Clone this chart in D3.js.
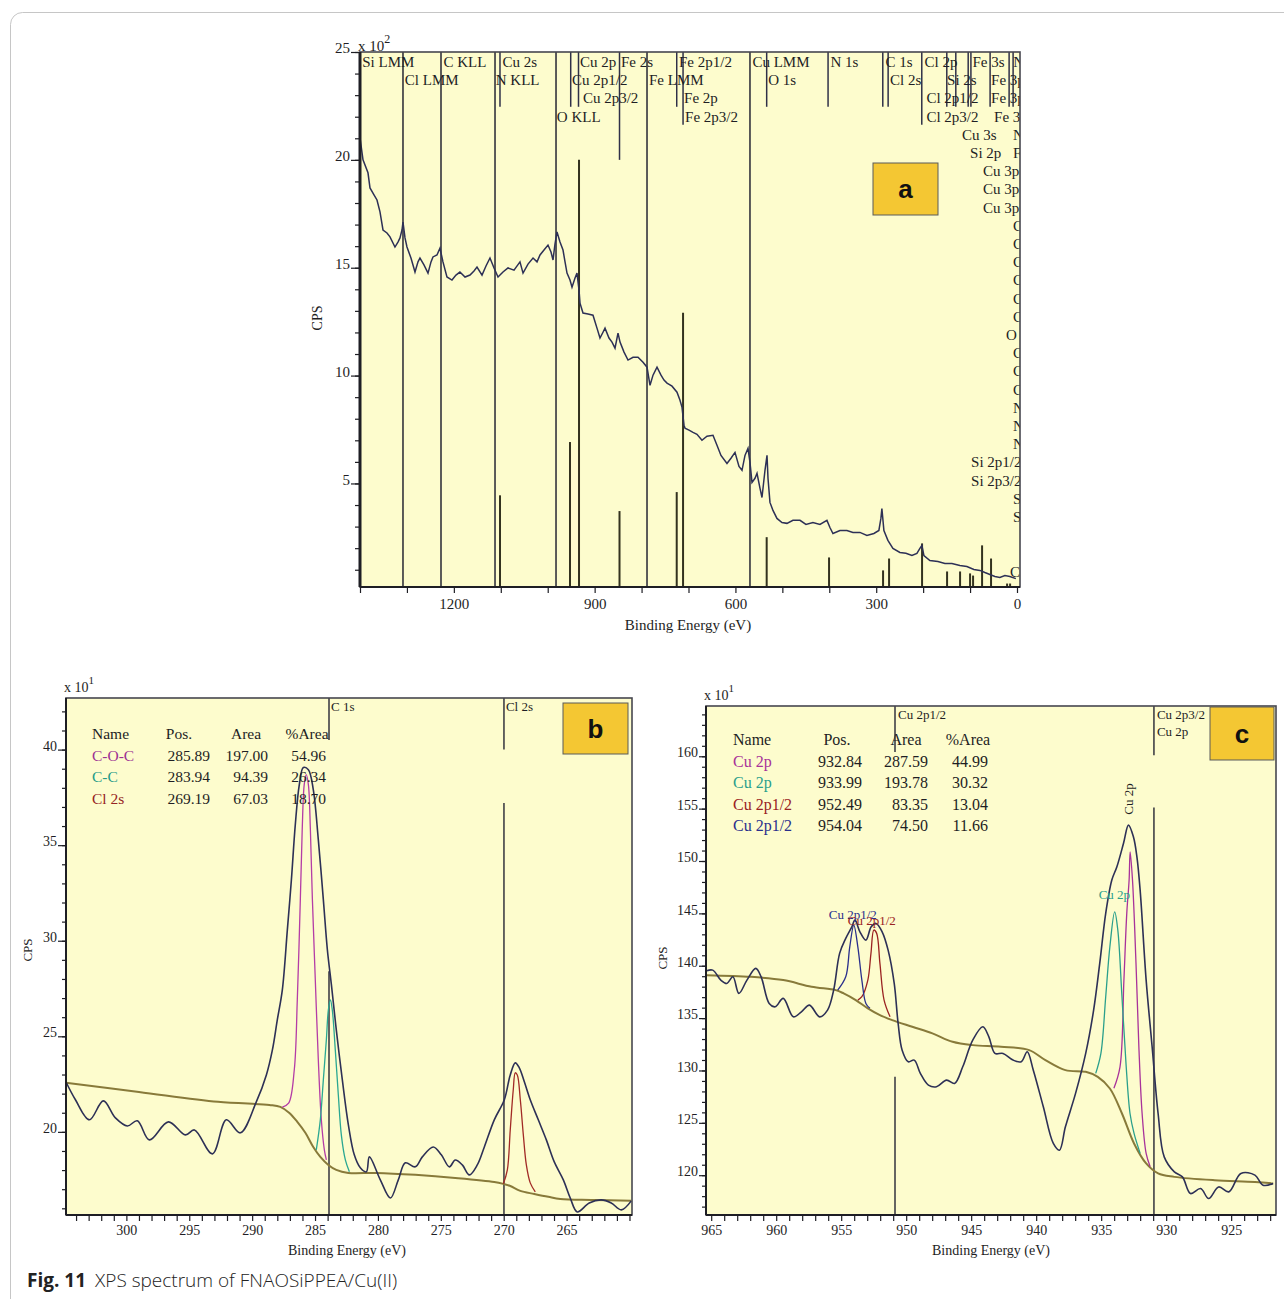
<!DOCTYPE html>
<html>
<head>
<meta charset="utf-8">
<script src="https://cdn.jsdelivr.net/npm/d3@7"></script>
<style>
  body { margin: 0; background: #fff; }
  svg { display: block; }
</style>
</head>
<body>
<svg id="fig" width="1284" height="1299"></svg>
<script>
/* ============================
   Data – survey (a)
============================ */

// [binding energy eV, CPS x100]
const surveyA = [
[1400.0,21.02],[1393.6,20.00],[1383.0,19.40],[1378.7,18.70],[1370.2,18.38],[1363.8,18.14],[1357.4,17.59],[1351.0,16.75],[1342.5,16.61],[1336.1,16.43],[1325.5,15.96],[1319.1,16.19],[1314.8,16.38],[1310.5,16.75],[1308.4,17.12],[1304.1,16.38],[1299.9,15.96],[1291.4,15.45],[1282.8,14.80],[1276.4,15.27],[1272.2,15.45],[1263.7,15.13],[1255.1,14.75],[1248.7,15.27],[1244.5,15.50],[1236.0,15.59],[1229.6,15.91],[1223.2,15.27],[1214.7,14.57],[1204.0,14.43],[1195.5,14.66],[1187.1,14.80],[1176.2,14.57],[1165.6,14.66],[1157.1,14.85],[1150.7,15.03],[1140.0,14.66],[1131.5,15.08],[1123.0,15.45],[1114.4,14.99],[1105.9,14.57],[1095.3,14.80],[1084.6,14.99],[1071.8,14.89],[1059.1,15.27],[1052.6,14.75],[1042.0,15.17],[1031.3,15.45],[1022.8,15.27],[1016.4,15.59],[1007.9,15.82],[999.4,16.05],[993.0,15.73],[988.7,15.36],[984.5,16.10],[980.2,16.66],[973.8,16.19],[967.4,15.82],[963.1,15.27],[958.9,14.75],[952.5,14.43],[948.2,14.10],[941.8,14.52],[937.6,14.75],[933.3,13.96],[931.2,13.36],[924.8,12.90],[914.1,12.85],[903.5,12.80],[895.0,12.20],[888.6,11.74],[882.2,12.01],[877.9,12.20],[869.4,11.74],[863.0,11.55],[856.6,11.27],[850.2,11.97],[845.9,11.55],[837.4,11.09],[828.9,10.72],[818.2,10.85],[807.6,10.85],[796.9,10.62],[788.4,10.39],[782.0,9.55],[775.6,10.02],[767.1,10.39],[758.6,10.02],[752.2,9.79],[745.8,9.65],[735.1,9.51],[724.5,9.23],[718.1,8.86],[713.8,8.53],[709.6,7.70],[707.4,7.56],[698.9,7.47],[690.4,7.37],[681.9,7.28],[671.3,7.00],[660.6,7.19],[647.8,7.23],[639.3,6.77],[630.8,6.30],[618.0,5.93],[609.5,6.17],[600.9,6.44],[592.4,5.79],[586.0,5.61],[579.6,6.30],[573.2,6.63],[569.0,5.98],[564.7,5.05],[558.3,5.24],[554.0,5.47],[547.6,4.77],[543.4,4.35],[537.0,5.61],[532.7,6.30],[530.6,5.24],[526.4,4.12],[520.0,3.75],[511.5,3.38],[500.8,3.19],[490.2,3.15],[477.4,3.29],[462.4,3.29],[449.7,3.10],[434.8,3.19],[419.9,3.10],[405.0,3.29],[398.6,2.96],[392.2,2.68],[377.3,2.82],[362.4,2.82],[349.6,2.73],[334.7,2.73],[319.8,2.59],[304.9,2.68],[294.3,2.82],[290.0,3.38],[287.9,3.84],[283.6,2.82],[275.1,2.36],[264.4,1.99],[249.5,1.80],[236.7,1.76],[223.9,1.66],[213.3,1.76],[206.9,1.99],[202.6,2.13],[198.4,1.66],[185.6,1.43],[168.5,1.38],[153.6,1.29],[138.7,1.29],[121.7,1.20],[106.8,1.15],[91.9,1.01],[79.1,0.97],[68.4,0.87],[57.8,0.78],[47.1,0.69],[36.5,0.64],[25.8,0.73],[15.2,0.69],[2.4,0.59]
];

// full-height element lines (BE)
const fullLinesA = [1308.4, 1227.4, 1112.3, 982.3, 788.4, 569.0];

// short marker lines hanging from the top: [BE, lower end in CPS x100]
const topMarksA = [
  [1101.7, 22.46], [951.0, 22.46], [934.4, 22.46], [847.0, 20.0], [725.1, 22.46],
  [711.6, 21.63], [533.4, 22.46], [402.6, 22.46], [286.0, 22.46], [274.6, 22.46],
  [202.9, 21.63], [149.6, 22.46], [130.4, 22.46], [104.0, 22.46], [98.2, 22.46],
  [57.3, 22.46], [16.8, 22.46], [8.3, 22.46]
];

// reference bars standing on the axis: [BE, height in CPS x100]
const barsA = [
  [1101.7, 4.45], [952.5, 6.92], [933.3, 20.0], [847.0, 3.72], [725.1, 4.60],
  [711.6, 12.91], [533.4, 2.51], [400.5, 1.57], [285.4, 0.97], [272.6, 1.52],
  [202.3, 2.22], [149.0, 0.92], [121.3, 0.92], [100.0, 0.83], [93.6, 0.73],
  [74.4, 2.13], [55.3, 1.52], [21.1, 0.36], [14.7, 0.36]
];

// peak labels: [text, BE at text start, stack row]
const labelsA = [
  ["Si LMM", 1395.2, 0], ["C KLL", 1222.3, 0], ["Cu 2s", 1096.5, 0], ["Cu 2p", 931.2, 0],
  ["Fe 2s", 843.8, 0], ["Fe 2p1/2", 720.2, 0], ["Cu LMM", 563.7, 0], ["N 1s", 397.4, 0],
  ["C 1s", 280.2, 0], ["Cl 2p", 197.1, 0], ["Fe 3s", 95.0, 0], ["N 2s", 8.0, 0],
  ["Cl LMM", 1304.5, 1], ["N KLL", 1110.7, 1], ["Cu 2p1/2", 948.2, 1], ["Fe LMM", 784.1, 1],
  ["O 1s", 530.0, 1], ["Cl 2s", 270.4, 1], ["Si 2s", 149.0, 1], ["Fe 3p", 55.2, 1],
  ["Cu 2p3/2", 925.0, 2], ["Fe 2p", 709.4, 2], ["Cl 2p1/2", 193.0, 2], ["Fe 3p", 55.2, 2],
  ["O KLL", 980.6, 3], ["Fe 2p3/2", 707.3, 3], ["Cl 2p3/2", 193.0, 3], ["Fe 3p", 48.8, 3],
  ["Cu 3s", 117.2, 4], ["N 2s", 8.3, 4],
  ["Si 2p", 100.0, 5], ["Fe 3p", 8.3, 5],
  ["Cu 3p", 72.3, 6], ["Cu 3p", 72.3, 7], ["Cu 3p", 72.3, 8],
  ["Cu 3d", 8.3, 9], ["Cu 3d", 8.3, 10], ["Cl 3s", 8.3, 11], ["Cl 3s", 8.3, 12],
  ["Cl 3p", 8.3, 13], ["Cl 3p", 8.3, 14], ["O 2s", 23.2, 15], ["Cu 3d", 8.3, 16],
  ["Cl 3p", 8.3, 17], ["Cl 3p", 8.3, 18], ["N 2s", 8.3, 19], ["N 2s", 8.3, 20],
  ["N 2s", 8.3, 21], ["Si 2p1/2", 97.8, 22], ["Si 2p3/2", 97.8, 23],
  ["Si 3s", 8.3, 24], ["Si 3p", 8.3, 25], ["Cl 3p", 14.7, 28]
];

/* ============================
   Data – C 1s / Cl 2s (b)
============================ */

const envelopeB = [
[304.77,22.57],[304.05,21.68],[302.94,20.63],[301.83,21.62],[300.87,20.73],[299.92,20.31],[299.13,20.58],[298.17,19.58],[296.66,20.52],[295.31,19.84],[294.59,20.10],[293.16,18.85],[292.05,20.63],[290.94,19.95],[289.67,21.57],[288.87,22.98],[288.39,24.29],[288.0,25.86],[287.6,27.43],[287.2,30.58],[286.88,33.19],[286.57,36.07],[286.25,38.17],[285.93,39.06],[285.53,38.95],[285.14,37.91],[284.74,35.29],[284.34,32.15],[284.02,29.53],[283.7,27.70],[283.31,25.34],[282.83,22.72],[282.35,20.37],[281.88,18.80],[281.4,18.12],[280.92,17.91],[280.68,18.69],[279.81,17.49],[279.01,16.54],[278.38,17.49],[277.82,18.38],[277.03,18.17],[276.47,18.69],[275.60,19.21],[274.96,18.80],[274.32,18.17],[273.85,18.53],[273.29,18.27],[272.73,17.75],[272.10,18.27],[271.54,19.21],[270.75,20.63],[269.95,21.68],[269.48,22.98],[269.08,23.61],[268.76,23.35],[268.36,22.62],[267.89,21.68],[267.25,20.63],[266.61,19.58],[265.98,18.43],[265.26,17.49],[264.71,16.54],[264.15,15.81],[263.20,16.28],[262.24,16.44],[261.45,16.28],[260.65,15.92],[259.86,16.39]
];
const backgroundB = [
[304.81,22.57],[299.0,22.09],[292.72,21.57],[288.63,21.41],[287.76,21.31],[287.04,20.99],[286.41,20.52],[285.77,19.95],[285.14,19.21],[284.58,18.69],[283.94,18.27],[283.31,18.01],[282.35,17.85],[280.13,17.85],[277.03,17.75],[273.85,17.59],[270.75,17.38],[270.03,17.28],[269.48,17.17],[268.68,16.91],[267.57,16.75],[266.45,16.60],[265.50,16.49],[262.88,16.44],[259.86,16.39]
];
const cocB = [[287.6,21.3],[287.1,21.5],[286.65,23.25],[286.41,26.91],[286.17,32.15],[286.02,35.81],[285.86,38.17],[285.70,38.69],[285.53,38.17],[285.37,35.81],[285.21,32.15],[284.98,27.96],[284.74,23.77],[284.50,20.63],[284.26,19.06],[284.10,18.53]];
const ccB = [[284.90,19.06],[284.58,20.63],[284.34,22.72],[284.10,24.82],[283.94,26.39],[283.78,26.91],[283.63,26.39],[283.39,24.29],[283.15,21.94],[282.91,19.84],[282.59,18.53],[282.27,17.91]];
const cl2sB = [[270.03,17.28],[269.71,18.01],[269.48,20.10],[269.24,22.20],[269.08,23.09],[268.92,22.98],[268.68,21.68],[268.44,19.84],[268.20,18.27],[267.89,17.33],[267.49,16.86]];

const tableB = [
  ["C-O-C", "285.89", "197.00", "54.96"],
  ["C-C", "283.94", "94.39", "26.34"],
  ["Cl 2s", "269.19", "67.03", "18.70"]
];
// [label, BE, top marker end, lower line start] (CPS x10)
const linesB = [["C 1s", 283.89, 40.5, 28.4], ["Cl 2s", 269.98, 40.0, 37.2]];

/* ============================
   Data – Cu 2p (c)
============================ */

const envelopeC = [
[965.35,139.52],[964.88,139.58],[964.26,138.63],[963.80,138.31],[963.33,138.94],[962.87,137.36],[962.25,138.63],[961.57,139.75],[961.16,138.94],[960.54,136.40],[960.08,136.08],[959.46,136.88],[958.68,135.12],[958.06,135.60],[957.44,136.24],[956.66,135.12],[956.05,135.76],[955.58,137.67],[955.12,141.18],[954.65,142.61],[954.18,143.72],[953.94,144.36],[953.56,143.24],[953.10,142.45],[952.69,143.72],[952.32,144.04],[951.85,143.24],[951.39,141.49],[950.92,138.31],[950.62,134.49],[950.31,131.94],[949.84,130.83],[949.38,130.99],[948.91,129.72],[948.29,128.60],[947.67,128.44],[946.89,129.08],[946.28,128.76],[945.65,130.35],[944.88,132.90],[944.10,134.17],[943.64,133.21],[943.17,131.63],[942.55,131.63],[941.78,130.99],[941.15,130.83],[940.69,131.78],[940.22,130.03],[939.45,126.53],[938.68,123.03],[938.21,122.39],[937.75,124.62],[936.97,127.81],[936.19,131.63],[935.58,135.76],[935.11,140.22],[934.65,145.0],[934.18,148.18],[933.79,149.45],[933.28,151.69],[932.90,153.43],[932.52,152.31],[932.25,150.40],[932.0,147.2],[931.54,138.63],[931.08,132.26],[930.62,125.89],[930.15,121.75],[929.37,120.32],[928.75,119.84],[928.13,118.25],[927.35,118.73],[926.73,117.77],[925.96,118.88],[925.18,118.41],[924.25,120.17],[923.17,120.01],[922.55,119.05],[921.77,119.21]
];
const backgroundC = [
[965.35,139.1],[961.94,138.94],[959.46,138.63],[957.28,137.99],[955.42,137.67],[954.81,137.36],[953.88,136.72],[952.95,135.93],[952.02,135.28],[951.08,134.81],[949.53,134.17],[947.98,133.54],[946.43,132.74],[944.88,132.42],[942.71,132.26],[940.54,131.94],[939.29,130.99],[937.75,130.03],[936.19,129.87],[935.26,129.39],[934.33,128.28],[933.40,125.89],[932.47,123.03],[931.54,121.12],[930.62,120.17],[929.37,119.84],[926.27,119.52],[923.17,119.36],[921.77,119.21]
];
const cu2pMagC = [[934.02,128.31],[933.55,130.35],[933.25,138.63],[933.03,145.0],[932.85,148.18],[932.77,150.88],[932.59,148.18],[932.32,140.22],[932.10,132.26],[931.85,125.89],[931.54,122.08],[931.23,120.80]];
const cu2pTealC = [[935.42,129.72],[935.02,131.63],[934.65,137.04],[934.33,141.81],[933.96,145.15],[933.72,143.41],[933.40,137.04],[933.09,130.67],[932.78,125.89],[932.47,123.99],[932.0,122.08]];
const cu2p12RedC = [[953.72,136.72],[953.41,137.04],[952.95,138.63],[952.71,141.18],[952.49,143.41],[952.27,143.09],[952.02,140.22],[951.70,136.72],[951.24,135.12]];
const cu2p12BlueC = [[955.27,137.67],[954.65,138.94],[954.34,141.81],[954.03,143.88],[953.72,141.81],[953.41,138.63],[953.10,136.40],[952.79,135.93]];

const tableC = [
  ["Cu 2p", "932.84", "287.59", "44.99"],
  ["Cu 2p", "933.99", "193.78", "30.32"],
  ["Cu 2p1/2", "952.49", "83.35", "13.04"],
  ["Cu 2p1/2", "954.04", "74.50", "11.66"]
];
const linesC = [["Cu 2p1/2", 950.86, 160.4, 129.4], ["Cu 2p3/2", 930.94, 160.1, 155.1]];

/* ============================
   Styles
============================ */

const SERIF = '"Liberation Serif", "Times New Roman", serif';
const PLOT_BG = "#fdfccd";
const INK = "#1e1e24";
const SPEC = "#2d3056";
const BGLINE = "#887a3a";
const colB = ["#9b2f93", "#249a88", "#962323"];
const curveColB = ["#b43ca6", "#2aa792", "#a12a26"];
const colC = ["#a8329a", "#2a9f8c", "#9a2222", "#2a2f8c"];

const svg = d3.select("#fig");

// outer rounded frame of the figure
svg.append("rect")
  .attr("x", 10.5).attr("y", 12.5)
  .attr("width", 1320).attr("height", 1330)
  .attr("rx", 12)
  .attr("fill", "none")
  .attr("stroke", "#c6c6c6");

/* ============================
   Helpers
============================ */

function plotBox(x, y) {
  const [x0, x1] = x.range(), [y0, y1] = y.range();
  svg.append("rect")
    .attr("x", x0).attr("y", y1)
    .attr("width", x1 - x0).attr("height", y0 - y1)
    .attr("fill", PLOT_BG);
}

function frameAndAxes(x, y, o) {
  const [x0, x1] = x.range(), [y0, y1] = y.range();

  svg.append("rect")
    .attr("x", x0).attr("y", y1)
    .attr("width", x1 - x0).attr("height", y0 - y1)
    .attr("fill", "none")
    .attr("stroke", "#46464f")
    .attr("stroke-width", 1.6);

  svg.append("line")
    .attr("x1", x0).attr("x2", x0).attr("y1", y1).attr("y2", y0)
    .attr("stroke", INK).attr("stroke-width", o.leftW || 2);
  svg.append("line")
    .attr("x1", x0).attr("x2", x1).attr("y1", y0).attr("y2", y0)
    .attr("stroke", INK).attr("stroke-width", 1.8);

  // y ticks: minor, then labelled
  svg.append("g")
    .attr("transform", `translate(${x0},0)`)
    .style("color", INK)
    .call(d3.axisLeft(y).tickValues(o.yMinor).tickSize(o.yMinorLen).tickFormat(""))
    .call(g => g.select(".domain").remove())
    .call(g => g.selectAll("line").attr("stroke-width", 1.2));

  svg.append("g")
    .attr("transform", `translate(${x0},0)`)
    .style("color", INK)
    .call(d3.axisLeft(y).tickValues(o.yMajor).tickSize(o.yMajorLen).tickPadding(1))
    .attr("font-family", SERIF)
    .attr("font-size", o.font)
    .call(g => g.select(".domain").remove())
    .call(g => g.selectAll("line").attr("stroke-width", 1.2))
    .call(g => g.selectAll("text").attr("dy", "0.05em").attr("fill", INK));

  // x ticks
  svg.append("g")
    .attr("transform", `translate(0,${y0})`)
    .style("color", INK)
    .call(d3.axisBottom(x).tickValues(o.xTicks).tickSize(o.xLen).tickPadding(o.xPad)
      .tickFormat(d => o.xLabels.includes(d) ? d : ""))
    .attr("font-family", SERIF)
    .attr("font-size", o.font)
    .call(g => g.select(".domain").remove())
    .call(g => g.selectAll("line").attr("stroke-width", 1.2))
    .call(g => g.selectAll("text").attr("fill", INK));

  // axis titles
  svg.append("text")
    .attr("x", (x0 + x1) / 2 + o.titleDx).attr("y", y0 + o.titleDy)
    .attr("text-anchor", "middle")
    .attr("font-family", SERIF).attr("font-size", o.font)
    .attr("fill", INK)
    .text("Binding Energy (eV)");

  svg.append("text")
    .attr("transform", `translate(${o.cpsX},${o.cpsY}) rotate(-90)`)
    .attr("text-anchor", "middle")
    .attr("font-family", SERIF).attr("font-size", o.font - 1)
    .attr("fill", INK)
    .text("CPS");

  const mult = svg.append("text")
    .attr("x", x0 - 2).attr("y", y1 - o.multDy)
    .attr("font-family", SERIF).attr("font-size", o.font)
    .attr("fill", INK)
    .text("x 10");
  mult.append("tspan")
    .attr("dy", -8).attr("font-size", o.font - 3)
    .text(o.exp);
}

function tagBox(x, y, w, h, letter) {
  svg.append("rect")
    .attr("x", x).attr("y", y).attr("width", w).attr("height", h)
    .attr("fill", "#f4c733").attr("stroke", "#5a5a5a").attr("stroke-width", 1);
  svg.append("text")
    .attr("x", x + w / 2).attr("y", y + h / 2 + 9)
    .attr("text-anchor", "middle")
    .attr("font-family", "Arial, 'Liberation Sans', sans-serif")
    .attr("font-weight", "bold").attr("font-size", 26)
    .attr("fill", "#111")
    .text(letter);
}

function drawCurve(data, x, y, color, width, curve) {
  svg.append("path")
    .datum(data)
    .attr("fill", "none")
    .attr("stroke", color)
    .attr("stroke-width", width)
    .attr("stroke-linejoin", "round")
    .attr("d", d3.line().x(d => x(d[0])).y(d => y(d[1])).curve(curve || d3.curveLinear));
}

function peakTable(rows, colors, o) {
  const heads = ["Name", "Pos.", "Area", "%Area"];
  const g = svg.append("g")
    .attr("font-family", SERIF).attr("font-size", o.font)
    .attr("fill", INK);
  g.append("text").attr("x", o.nameX).attr("y", o.y0).text(heads[0]);
  heads.slice(1).forEach((h, i) => {
    g.append("text").attr("x", o.colEnds[i] - o.headShift[i]).attr("y", o.y0)
      .attr("text-anchor", "middle").text(h);
  });
  rows.forEach((r, i) => {
    const yy = o.y0 + (i + 1) * o.dy;
    g.append("text").attr("x", o.nameX).attr("y", yy).attr("fill", colors[i]).text(r[0]);
    r.slice(1).forEach((v, j) => {
      g.append("text").attr("x", o.colEnds[j]).attr("y", yy)
        .attr("text-anchor", "end").text(v);
    });
  });
}

/* ============================
   Panel a: survey
============================ */

const xA = d3.scaleLinear().domain([1400, -6.4]).range([360, 1020]);
const yA = d3.scaleLinear().domain([0.2, 25]).range([587, 52]);

plotBox(xA, yA);

svg.append("defs").append("clipPath").attr("id", "clipA")
  .append("rect").attr("x", 360).attr("y", 52).attr("width", 660).attr("height", 535);

const gA = svg.append("g").attr("clip-path", "url(#clipA)");

gA.selectAll("line.full")
  .data(fullLinesA)
  .enter()
  .append("line")
  .attr("x1", d => xA(d)).attr("x2", d => xA(d))
  .attr("y1", yA(25)).attr("y2", yA(0.2))
  .attr("stroke", "#33333d").attr("stroke-width", 1.6);

gA.selectAll("line.top")
  .data(topMarksA)
  .enter()
  .append("line")
  .attr("x1", d => xA(d[0])).attr("x2", d => xA(d[0]))
  .attr("y1", yA(25)).attr("y2", d => yA(d[1]))
  .attr("stroke", "#2f3048").attr("stroke-width", 1.5);

gA.selectAll("line.bar")
  .data(barsA)
  .enter()
  .append("line")
  .attr("x1", d => xA(d[0])).attr("x2", d => xA(d[0]))
  .attr("y1", yA(0.2)).attr("y2", d => yA(d[1]))
  .attr("stroke", "#33321f").attr("stroke-width", 2);

gA.selectAll("text.lab")
  .data(labelsA)
  .enter()
  .append("text")
  .attr("x", d => xA(d[1]))
  .attr("y", d => 67 + d[2] * 18.2)
  .attr("font-family", SERIF).attr("font-size", 15)
  .attr("fill", INK)
  .text(d => d[0]);

gA.append("path")
  .datum(surveyA)
  .attr("fill", "none")
  .attr("stroke", SPEC)
  .attr("stroke-width", 1.5)
  .attr("d", d3.line().x(d => xA(d[0])).y(d => yA(d[1])));

frameAndAxes(xA, yA, {
  yMinor: d3.range(1, 26), yMajor: [5, 10, 15, 20, 25],
  yMinorLen: 5, yMajorLen: 9, font: 15, leftW: 3,
  xTicks: d3.range(0, 1401, 100), xLabels: [1200, 900, 600, 300, 0],
  xLen: 6, xPad: 5, titleDx: -2, titleDy: 43,
  cpsX: 322, cpsY: 318, multDy: 1, exp: "2"
});

tagBox(873, 163, 65, 52, "a");

/* ============================
   Panel b: C 1s region
============================ */

const xB = d3.scaleLinear().domain([304.8, 259.8]).range([66, 632]);
const yB = d3.scaleLinear().domain([15.65, 42.7]).range([1215, 698]);

plotBox(xB, yB);

linesB.forEach(([name, be, topEnd, lowStart]) => {
  svg.append("line")
    .attr("x1", xB(be)).attr("x2", xB(be)).attr("y1", yB(42.7)).attr("y2", yB(topEnd))
    .attr("stroke", "#33333d").attr("stroke-width", 1.5);
  svg.append("line")
    .attr("x1", xB(be)).attr("x2", xB(be)).attr("y1", yB(lowStart)).attr("y2", yB(15.65))
    .attr("stroke", "#33333d").attr("stroke-width", 1.5);
  svg.append("text")
    .attr("x", xB(be) + 2).attr("y", yB(42.7) + 13)
    .attr("font-family", SERIF).attr("font-size", 13).attr("fill", INK)
    .text(name);
});

drawCurve(backgroundB, xB, yB, BGLINE, 2, d3.curveCatmullRom);
drawCurve(cocB, xB, yB, curveColB[0], 1.3, d3.curveCatmullRom);
drawCurve(ccB, xB, yB, curveColB[1], 1.3, d3.curveCatmullRom);
drawCurve(cl2sB, xB, yB, curveColB[2], 1.3, d3.curveCatmullRom);
drawCurve(envelopeB, xB, yB, SPEC, 1.6, d3.curveCatmullRom);

peakTable(tableB, colB, {
  font: 15.5, nameX: 92, y0: 739, dy: 21.5,
  colEnds: [210, 268, 326], headShift: [31, 22, 19]
});

frameAndAxes(xB, yB, {
  yMinor: d3.range(16, 43), yMajor: [20, 25, 30, 35, 40],
  yMinorLen: 4, yMajorLen: 8, font: 14,
  xTicks: d3.range(260, 305), xLabels: [300, 295, 290, 285, 280, 275, 270, 265],
  xLen: 6, xPad: 4, titleDx: -2, titleDy: 40,
  cpsX: 32, cpsY: 950, multDy: 6, exp: "1"
});

tagBox(563, 703, 65, 51, "b");

/* ============================
   Panel c: Cu 2p region
============================ */

const xC = d3.scaleLinear().domain([965.4, 921.55]).range([706, 1276]);
const yC = d3.scaleLinear().domain([116.2, 164.8]).range([1215, 706]);

plotBox(xC, yC);

linesC.forEach(([name, be, topEnd, lowStart]) => {
  svg.append("line")
    .attr("x1", xC(be)).attr("x2", xC(be)).attr("y1", yC(164.8)).attr("y2", yC(topEnd))
    .attr("stroke", "#33333d").attr("stroke-width", 1.5);
  svg.append("line")
    .attr("x1", xC(be)).attr("x2", xC(be)).attr("y1", yC(lowStart)).attr("y2", yC(116.2))
    .attr("stroke", "#33333d").attr("stroke-width", 1.5);
  svg.append("text")
    .attr("x", xC(be) + 3).attr("y", yC(164.8) + 13)
    .attr("font-family", SERIF).attr("font-size", 13).attr("fill", INK)
    .text(name);
});
svg.append("text")
  .attr("x", xC(930.94) + 3).attr("y", yC(164.8) + 30)
  .attr("font-family", SERIF).attr("font-size", 13).attr("fill", INK)
  .text("Cu 2p");

drawCurve(backgroundC, xC, yC, BGLINE, 2, d3.curveCatmullRom);
drawCurve(cu2pMagC, xC, yC, colC[0], 1.3, d3.curveCatmullRom);
drawCurve(cu2pTealC, xC, yC, colC[1], 1.3, d3.curveCatmullRom);
drawCurve(cu2p12RedC, xC, yC, colC[2], 1.3, d3.curveCatmullRom);
drawCurve(cu2p12BlueC, xC, yC, colC[3], 1.3, d3.curveCatmullRom);
drawCurve(envelopeC, xC, yC, SPEC, 1.6, d3.curveCatmullRom);

// peak annotations above the fitted components
const apex = arr => arr.reduce((a, b) => (b[1] > a[1] ? b : a));
const envTop = apex(envelopeC);
svg.append("text")
  .attr("transform", `translate(${xC(envTop[0]) + 5},${yC(envTop[1]) - 26}) rotate(-90)`)
  .attr("text-anchor", "middle")
  .attr("font-family", SERIF).attr("font-size", 13).attr("fill", INK)
  .text("Cu 2p");
const tealTop = apex(cu2pTealC);
svg.append("text")
  .attr("x", xC(tealTop[0]) - 16).attr("y", yC(tealTop[1]) - 13)
  .attr("font-family", SERIF).attr("font-size", 13).attr("fill", colC[1])
  .text("Cu 2p");
const blueTop = apex(cu2p12BlueC);
svg.append("text")
  .attr("x", xC(blueTop[0]) - 25).attr("y", yC(blueTop[1]) - 6)
  .attr("font-family", SERIF).attr("font-size", 13).attr("fill", colC[3])
  .text("Cu 2p1/2");
const redTop = apex(cu2p12RedC);
svg.append("text")
  .attr("x", xC(redTop[0]) - 26).attr("y", yC(redTop[1]) - 5)
  .attr("font-family", SERIF).attr("font-size", 13).attr("fill", colC[2])
  .text("Cu 2p1/2");

peakTable(tableC, colC, {
  font: 16, nameX: 733, y0: 745, dy: 21.5,
  colEnds: [862, 928, 988], headShift: [25, 22, 20]
});

frameAndAxes(xC, yC, {
  yMinor: d3.range(117, 165), yMajor: [120, 125, 130, 135, 140, 145, 150, 155, 160],
  yMinorLen: 4, yMajorLen: 7, font: 14,
  xTicks: d3.range(922, 966), xLabels: [965, 960, 955, 950, 945, 940, 935, 930, 925],
  xLen: 6, xPad: 4, titleDx: 0, titleDy: 40,
  cpsX: 667, cpsY: 958, multDy: 6, exp: "1"
});

tagBox(1210, 707, 64, 53, "c");

/* ============================
   Caption
============================ */

const cap = svg.append("text")
  .attr("x", 27).attr("y", 1287)
  .attr("font-family", "'Open Sans', 'Noto Sans', sans-serif")
  .attr("font-size", 19)
  .attr("fill", "#222");
cap.append("tspan").attr("font-weight", "bold").text("Fig. 11");
cap.append("tspan").attr("dx", 9).attr("font-weight", 300).text("XPS spectrum of FNAOSiPPEA/Cu(II)");
</script>
</body>
</html>
